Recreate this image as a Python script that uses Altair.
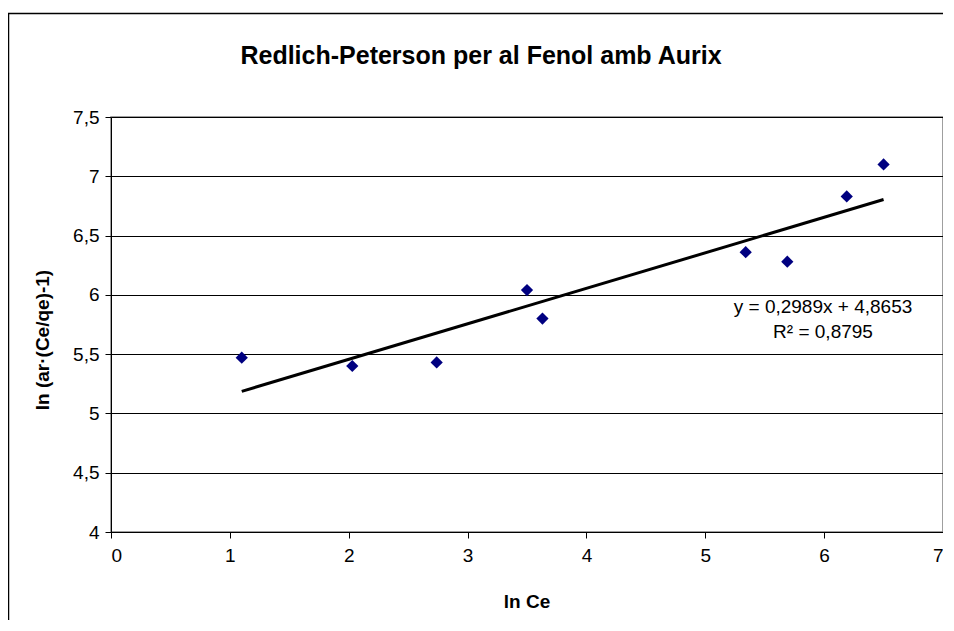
import altair as alt
import pandas as pd

# data
ln_ce = [1.10, 2.03, 2.74, 3.50, 3.63, 5.34, 5.69, 6.19, 6.50]
ln_q = [5.47, 5.40, 5.43, 6.04, 5.80, 6.36, 6.28, 6.83, 7.10]
y_ticks = [4, 4.5, 5, 5.5, 6, 6.5, 7, 7.5]
x_ticks = [0, 1, 2, 3, 4, 5, 6, 7]
title_text = "Redlich-Peterson per al Fenol amb Aurix"
x_title = "ln Ce"
y_title = "ln (ar·(Ce/qe)-1)"
eq_lines = ["y = 0,2989x + 4,8653", "R² = 0,8795"]

W, H = 832, 415
FONT = "Liberation Sans"

df = pd.DataFrame({"x": ln_ce, "y": ln_q})

xs = alt.Scale(domain=[0, 7], nice=False, zero=False)
ys = alt.Scale(domain=[4, 7.5], nice=False, zero=False)

base = alt.Chart(df)

points = base.mark_point(shape="diamond", filled=True, size=150, color="#000080", opacity=1).encode(
    x=alt.X("x:Q", scale=xs, axis=alt.Axis(
        values=x_ticks, grid=False, title=None, labelFontSize=19, labelFont=FONT,
        labelColor="#000", tickColor="#000", domainColor="#000", tickSize=6,
        labelPadding=8, labelExpr="replace(toString(datum.value), '.', ',')")),
    y=alt.Y("y:Q", scale=ys, axis=alt.Axis(
        values=y_ticks, grid=True, gridColor="#000", gridWidth=1, title=None,
        labelFontSize=19, labelFont=FONT, labelColor="#000", tickColor="#000",
        domainColor="#000", tickSize=6, labelPadding=6,
        labelExpr="replace(toString(datum.value), '.', ',')")),
)

trend = base.transform_regression("x", "y").mark_line(color="#000", strokeWidth=3).encode(
    x=alt.X("x:Q", scale=xs), y=alt.Y("y:Q", scale=ys)
)

def txt(t, x, y, size, bold=False, angle=0):
    return alt.Chart(pd.DataFrame({"t": [t]})).mark_text(
        font=FONT, fontSize=size, fontWeight="bold" if bold else "normal",
        color="#000", align="center", baseline="middle", angle=angle
    ).encode(x=alt.value(x), y=alt.value(y), text="t:N")

frame = alt.Chart(pd.DataFrame({"a": [0]})).mark_rect(
    fill=None, stroke="#000", strokeWidth=1.5
).encode(x=alt.value(-102.5), y=alt.value(-103.5), x2=alt.value(W + 60), y2=alt.value(H + 200))

chart = alt.layer(
    frame,
    points,
    trend,
    txt(title_text, 370, -61, 25, bold=True),
    txt(x_title, 416, 485, 19, bold=True),
    txt(y_title, -68, 223, 19, bold=True, angle=270),
    txt(eq_lines[0], 712, 190, 19),
    txt(eq_lines[1], 712, 215, 19),
).properties(
    width=W, height=H,
    autosize=alt.AutoSizeParams(type="none"),
    padding={"left": 103, "top": 109, "right": 0, "bottom": 88},
    background="#ffffff",
).configure_view(stroke="#808080", strokeWidth=1.5)

chart.save("out.html", embed_options={"renderer": "svg", "actions": False})
